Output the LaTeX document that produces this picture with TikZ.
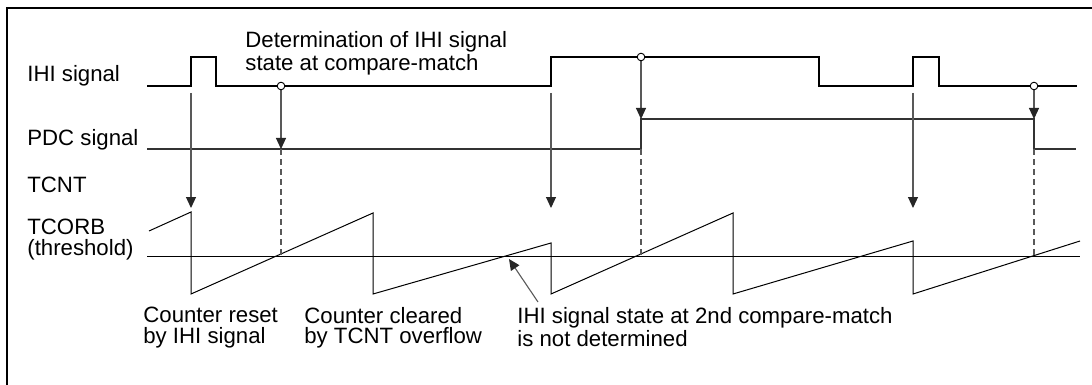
\documentclass[tikz,border=0pt]{standalone}
\usepackage{fontspec}
\setmainfont{Liberation Sans}
\usetikzlibrary{arrows.meta, positioning}

\begin{document}
\begin{tikzpicture}[
    x=0.5pt, y=-0.5pt,
    >={Triangle[width=5pt,length=5.5pt,color=black!85]},
    font=\fontsize{11.1}{10.2}\selectfont,
    lbl/.style={anchor=base west, inner sep=0pt},
    lbltwo/.style={anchor=north west, inner sep=0pt, align=left},
    wave/.style={line width=0.55pt},
    probe/.style={circle, draw, fill=white, inner sep=0pt, minimum size=3.8pt, line width=0.45pt},
    arrow/.style={->, draw=black!65, line width=0.55pt},
    guide/.style={draw=black!65, dash pattern=on 3pt off 2pt, line width=0.55pt}
]
\useasboundingbox (0,0) rectangle (1092,385);
\draw[line width=0.8pt] (1092,8) -| (7,385);

\node[lbl] (ihi) at (27,82) {IHI signal};
\node[lbl] (pdc) at (27,146) {PDC signal};
\node[lbl] (tcnt) at (27,192) {TCNT};
\node[lbltwo] (tcorb) at (27,219) {TCORB\\(threshold)};
\node[lbltwo] (determ) at (245,31) {Determination of IHI signal\\state at compare-match};
\node[lbltwo] (reset) at (143,307) {Counter reset\\by IHI signal};
\node[lbltwo] (cleared) at (304,307) {Counter cleared\\by TCNT overflow};
\node[lbltwo] (notdet) at (517,307) {IHI signal state at 2nd compare-match\\is not determined};

\draw[wave] (147,86) -- (191,86) -- (191,57) -- (216,57) -- (216,86) -- (551,86) -- (551,57)
    -- (819,57) -- (819,86) -- (913,86) -- (913,57) -- (939,57) -- (939,86) -- (1077,86);
\draw[wave, draw=black!80] (147,149) -- (641,149) -- (641,119) -- (1034,119) -- (1034,149) -- (1076,149);
\draw[wave, line width=0.5pt] (147,256) -- (1080,256);
\draw[wave, line width=0.5pt] (149,231) -- (191,212) -- (191,294) -- (373,213) -- (373,294)
    -- (551,243) -- (551,294) -- (733,213) -- (733,294) -- (913,241) -- (913,294) -- (1080,241);

\coordinate (rst1top) at (191,93);
\coordinate (rst1end) at (191,208);
\coordinate (rst2top) at (551,93);
\coordinate (rst2end) at (551,208);
\coordinate (rst3top) at (913,93);
\coordinate (rst3end) at (913,208);
\draw[arrow] (rst1top) -- (rst1end);
\draw[arrow] (rst2top) -- (rst2end);
\draw[arrow] (rst3top) -- (rst3end);

\coordinate (cm1pdc) at (281,149);
\coordinate (cm1thr) at (281,256);
\coordinate (cm2pdc) at (641,119);
\coordinate (cm2low) at (641,149);
\coordinate (cm2thr) at (641,256);
\coordinate (cm3pdc) at (1034,119);
\coordinate (cm3low) at (1034,149);
\coordinate (cm3thr) at (1034,256);
\draw[arrow] (281,86) -- (cm1pdc);
\draw[arrow] (641,57) -- (cm2pdc);
\draw[arrow] (1034,86) -- (cm3pdc);
\draw[guide] (cm1pdc) -- (cm1thr);
\draw[guide] (cm2low) -- (cm2thr);
\draw[guide] (cm3low) -- (cm3thr);
\node[probe] (cm1) at (281,86) {};
\node[probe] (cm2) at (641,57) {};
\node[probe] (cm3) at (1034,86) {};

\coordinate (ndtail) at (538,302);
\coordinate (ndcross) at (509,259);
\draw[arrow] (ndtail) -- (ndcross);
\end{tikzpicture}
\end{document}
